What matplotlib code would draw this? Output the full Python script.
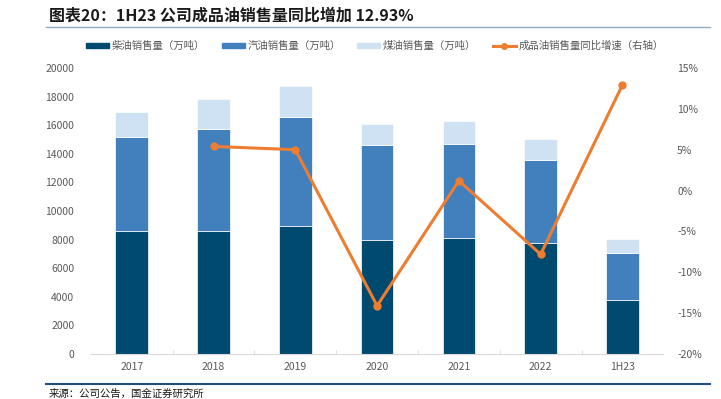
import matplotlib
matplotlib.use("Agg")
import matplotlib.pyplot as plt
import numpy as np
from matplotlib.lines import Line2D

plt.rcParams['font.family'] = ['Noto Sans CJK SC', 'DejaVu Sans']

categories = ['2017', '2018', '2019', '2020', '2021', '2022', '1H23']
diesel = [8600, 8600, 8950, 7970, 8090, 7790, 3780]
gasoline_top = [15170, 15700, 16550, 14590, 14690, 13570, 7080]
kerosene_top = [16920, 17830, 18760, 16080, 16320, 15030, 8020]
gasoline = [g - d for g, d in zip(gasoline_top, diesel)]
kerosene = [k - g for k, g in zip(kerosene_top, gasoline_top)]
growth_cats = ['2018', '2019', '2020', '2021', '2022', '1H23']
growth = [5.4, 5.0, -14.1, 1.2, -7.8, 12.93]

c_diesel = '#004A70'
c_gas = '#417FBD'
c_ker = '#CFE2F3'
c_line = '#ED7D31'
tick_col = '#595959'

fig = plt.figure(figsize=(7.21, 3.99), dpi=100)
ax = fig.add_axes([0.126, 0.1128, 0.794, 0.7168])
x = np.arange(len(categories))
w = 0.4
ax.bar(x, diesel, w, color=c_diesel, edgecolor='white', linewidth=0.5, label='柴油销售量（万吨）')
ax.bar(x, gasoline, w, bottom=diesel, color=c_gas, edgecolor='white', linewidth=0.5, label='汽油销售量（万吨）')
ax.bar(x, kerosene, w, bottom=gasoline_top, color=c_ker, edgecolor='white', linewidth=0.5, label='煤油销售量（万吨）')
ax.set_xlim(-0.5, len(categories) - 0.5)
ax.set_ylim(0, 20000)
ax.set_yticks(np.arange(0, 20001, 2000))
ax.set_xticks(x)
ax.set_xticklabels(categories)
ax.set_xticks(np.arange(0.5, len(categories) - 0.5, 1), minor=True)
ax.tick_params(axis='x', which='major', length=0, pad=6, colors=tick_col, labelsize=7.5)
ax.tick_params(axis='x', which='minor', length=3, direction='in', color='#D9D9D9')
ax.tick_params(axis='y', length=0, pad=12, colors=tick_col, labelsize=7.5)
for s in ['top', 'right', 'left']:
    ax.spines[s].set_visible(False)
ax.spines['bottom'].set_color('#D9D9D9')

ax2 = ax.twinx()
gx = [categories.index(c) for c in growth_cats]
ax2.plot(gx, growth, color=c_line, linewidth=2.2, marker='o', markersize=5, label='成品油销售量同比增速（右轴）')
ax2.set_ylim(-20, 15)
ax2.set_yticks(np.arange(-20, 16, 5))
ax2.set_yticklabels([f'{v}%' for v in range(-20, 16, 5)])
ax2.tick_params(axis='y', length=0, pad=10, colors=tick_col, labelsize=7.5)
for s in ['top', 'right', 'left', 'bottom']:
    ax2.spines[s].set_visible(False)

handles = [
    plt.Rectangle((0, 0), 1, 1, color=c_diesel),
    plt.Rectangle((0, 0), 1, 1, color=c_gas),
    plt.Rectangle((0, 0), 1, 1, color=c_ker),
    Line2D([0], [0], color=c_line, linewidth=2.2, marker='o', markersize=4),
]
labels = ['柴油销售量（万吨）', '汽油销售量（万吨）', '煤油销售量（万吨）', '成品油销售量同比增速（右轴）']
fig.legend(handles, labels, loc='center', bbox_to_anchor=(0.52, 0.885), ncol=4, frameon=False,
           fontsize=7.5, handlelength=2.2, handleheight=0.45, columnspacing=1.6, handletextpad=0.25,
           labelcolor=tick_col)

fig.text(0.068, 0.962, '图表20：1H23 公司成品油销售量同比增加 12.93%', fontsize=11.5, fontweight='bold',
         color='#1a1a1a', va='center', ha='left', style='italic')
fig.add_artist(Line2D([0.064, 0.985], [0.932, 0.932], color='#8FAAC2', linewidth=1.0))
fig.add_artist(Line2D([0.064, 0.985], [0.038, 0.038], color='#1F4E79', linewidth=1.5))
fig.text(0.068, 0.012, '来源：公司公告，国金证券研究所', fontsize=7.5, color='#1a1a1a', va='center', ha='left')

fig.savefig('out.png', dpi=100)
